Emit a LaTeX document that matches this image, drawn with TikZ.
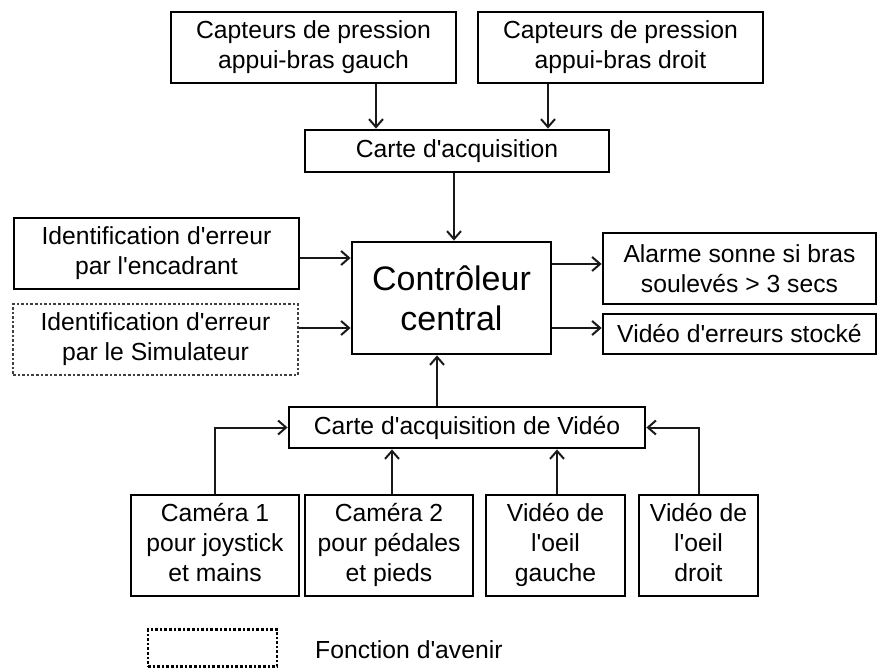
\documentclass[tikz,border=0pt]{standalone}
\usepackage{fontspec}
\setmainfont{Liberation Sans}[Ligatures=TeXOff]
\usetikzlibrary{arrows.meta}
\begin{document}
\begin{tikzpicture}[x=1pt,y=-1pt,
  box/.style={draw=black,line width=2.8pt,inner sep=0pt,align=center,
    font=\fontsize{24.7}{30}\selectfont},
  futurebox/.style={box,draw=black!75,dash pattern=on 2.6pt off 2pt,line width=2.6pt},
  big/.style={box,font=\fontsize{34}{40}\selectfont},
  arr/.style={draw=black!90,line width=2pt,-{Straight Barb[length=8pt,width=14pt,line width=2pt]}}]
\useasboundingbox (0,0) rectangle (878,668);
\node[box,minimum width=285,minimum height=71] (capg) at (313.5,47.5) {Capteurs de pression\\appui-bras gauch};
\node[box,minimum width=285,minimum height=71] (capd) at (620.5,47.5) {Capteurs de pression\\appui-bras droit};
\node[box,minimum width=304,minimum height=42] (carte) at (457,151) {Carte d'acquisition};
\node[big,minimum width=199,minimum height=112] (ctrl) at (451.5,298) {Contrôleur\\central};
\node[box,minimum width=285,minimum height=71] (id1) at (156.5,253.5) {Identification d'erreur\\par l'encadrant};
\node[futurebox,minimum width=285,minimum height=71] (id2) at (155.5,339.5) {Identification d'erreur\\par le Simulateur};
\node[box,minimum width=273,minimum height=71] (alarme) at (739.5,268.5) {Alarme sonne si bras\\soulevés > 3 secs};
\node[box,minimum width=273,minimum height=40] (video) at (739.5,334) {Vidéo d'erreurs stocké};
\node[box,minimum width=356,minimum height=41] (vcard) at (467,427.5) {Carte d'acquisition de Vidéo};
\node[box,minimum width=168,minimum height=101] (cam1) at (215,545.5) {\strut Caméra 1\\pour joystick\\et mains\strut};
\node[box,minimum width=168,minimum height=101] (cam2) at (389,545.5) {\strut Caméra 2\\pour pédales\\et pieds\strut};
\node[box,minimum width=139,minimum height=101] (vg) at (555.5,545.5) {\strut Vidéo de\\l'oeil\\gauche\strut};
\node[box,minimum width=119,minimum height=101] (vd) at (698.5,545.5) {\strut Vidéo de\\l'oeil\\droit\strut};
\node[futurebox,draw=black,minimum width=129,minimum height=37] (leg) at (212.5,648) {};
\node[anchor=west,inner sep=0pt,font=\fontsize{24.7}{30}\selectfont] (legtxt) at (315,650) {Fonction d'avenir};
% guide coordinates
\coordinate (xa) at (376,0);
\coordinate (xb) at (548,0);
\coordinate (xc) at (454,0);
\coordinate (xd) at (437,0);
\coordinate (xe) at (392,0);
\coordinate (xf) at (557,0);
\coordinate (ya) at (0,258);
\coordinate (yb) at (0,328);
\coordinate (yc) at (0,264);
% connectors
\draw[arr] (capg.south -| xa) -- (carte.north -| xa);
\draw[arr] (capd.south -| xb) -- (carte.north -| xb);
\draw[arr] (carte.south -| xc) -- (ctrl.north -| xc);
\draw[arr] (id1.east |- ya) -- (ctrl.west |- ya);
\draw[arr] (id2.east |- yb) -- (ctrl.west |- yb);
\draw[arr] (ctrl.east |- yc) -- (alarme.west |- yc);
\draw[arr] (ctrl.east |- yb) -- (video.west |- yb);
\draw[arr] (vcard.north -| xd) -- (ctrl.south -| xd);
\draw[arr] (cam1.north) |- (vcard.west);
\draw[arr] (cam2.north -| xe) -- (vcard.south -| xe);
\draw[arr] (vg.north -| xf) -- (vcard.south -| xf);
\draw[arr] (vd.north) |- (vcard.east);
\end{tikzpicture}
\end{document}
